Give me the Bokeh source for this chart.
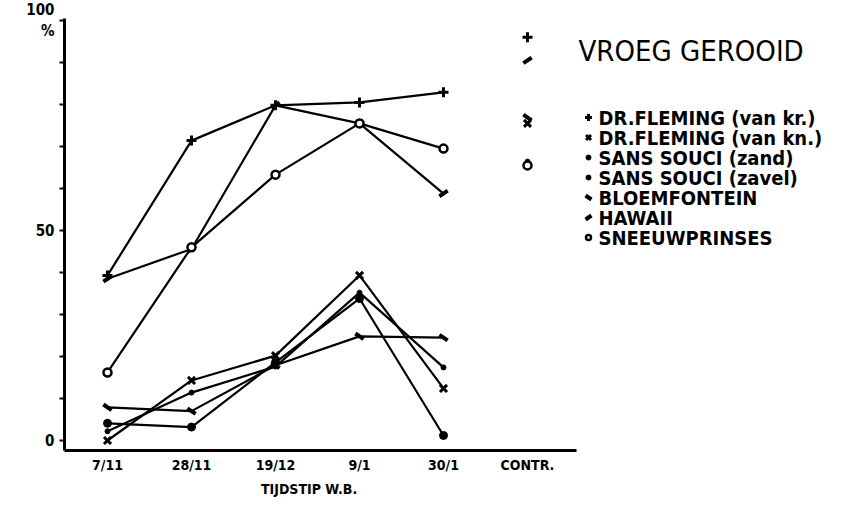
from bokeh.plotting import figure
from bokeh.models import FixedTicker, Label, Range1d, LinearAxis
from bokeh.embed import file_html
from bokeh.resources import INLINE

# ---------------- data ----------------
categories = ["7/11", "28/11", "19/12", "9/1", "30/1", "CONTR."]
dr_fleming_kr = [39.3, 71.4, 79.8, 80.5, 82.9]
dr_fleming_kn = [0.0, 14.3, 20.2, 39.3, 12.4]
sans_souci_zand = [4.1, 3.2, 18.6, 33.8, 1.2]
sans_souci_zavel = [2.2, 11.4, 17.6, 35.2, 17.4]
bloemfontein = [7.9, 7.0, 17.9, 24.8, 24.5]
hawaii = [38.5, 45.6, 79.8, 75.5, 58.8]
sneeuwprinses = [16.2, 46.0, 63.3, 75.5, 69.5]
# control values (CONTR.), None = not shown
contr_values = [96.0, 75.5, None, 66.4, 76.9, 90.5, 65.5]
series_names = ["DR.FLEMING (van kr.)", "DR.FLEMING (van kn.)", "SANS SOUCI (zand)",
                "SANS SOUCI (zavel)", "BLOEMFONTEIN", "HAWAII", "SNEEUWPRINSES"]
y_ticks = [0, 10, 20, 30, 40, 50, 60, 70, 80, 90, 100]
y_labels = {0: "0", 50: "50", 100: "100\n%"}
title_text = "VROEG GEROOID"
x_title = "TIJDSTIP W.B."
x_title_pos = 2.4

series = [dr_fleming_kr, dr_fleming_kn, sans_souci_zand, sans_souci_zavel,
          bloemfontein, hawaii, sneeuwprinses]

FONT = "DejaVu Sans Condensed, Liberation Sans Narrow, DejaVu Sans"

# marker styles per series
styles = [
    dict(marker="cross", size=10, line_width=3, fill_color="black"),
    dict(marker="x", size=10, line_width=3, fill_color="black"),
    dict(marker="circle", size=8, line_width=1, fill_color="black"),
    dict(marker="circle", size=5, line_width=1, fill_color="black"),
    dict(marker="dash", size=10, line_width=4, fill_color="black", angle=-0.6),
    dict(marker="dash", size=10, line_width=4, fill_color="black", angle=0.6),
    dict(marker="circle", size=8, line_width=2.5, fill_color="white"),
]

W, H = 830, 501

# pixel -> data helpers for layout
def X(px):
    return (px - 107) / 84.0

def Y(py):
    return (440 - py) / 4.2

p = figure(width=W, height=H, output_backend="svg", toolbar_location=None,
           x_range=Range1d(X(64), X(W)), y_range=Range1d(Y(450), Y(0)),
           min_border_left=64, min_border_right=0, min_border_top=0,
           min_border_bottom=H - 450)
p.outline_line_color = None
p.xgrid.visible = False
p.ygrid.visible = False
p.background_fill_color = "white"
p.border_fill_color = "white"

xs = list(range(len(categories)))

# x axis
xa = p.xaxis[0]
xa.ticker = FixedTicker(ticks=xs)
xa.major_label_overrides = {i: c for i, c in enumerate(categories)}
xa.bounds = (X(64), X(576))
xa.axis_line_width = 3
xa.major_tick_line_color = None
xa.major_tick_out = 0
xa.major_tick_in = 0
xa.minor_tick_line_color = None
xa.major_label_standoff = 6
xa.major_label_text_font = FONT
xa.major_label_text_font_style = "bold"
xa.major_label_text_font_size = "14px"
xa.major_label_text_color = "black"

# second (title) axis below
ta = LinearAxis(ticker=FixedTicker(ticks=[x_title_pos]),
                major_label_overrides={x_title_pos: x_title},
                axis_line_color=None, major_tick_line_color=None,
                minor_tick_line_color=None, major_tick_out=0, major_tick_in=0,
                major_label_standoff=5, major_label_text_font=FONT,
                major_label_text_font_style="bold", major_label_text_font_size="14px",
                major_label_text_color="black")
p.add_layout(ta, "below")

# y axis
ya = p.yaxis[0]
ya.ticker = FixedTicker(ticks=y_ticks)
ya.major_label_overrides = {t: y_labels.get(t, "") for t in y_ticks}
ya.bounds = (Y(450), Y(18))
ya.axis_line_width = 3
ya.major_tick_out = 5
ya.major_tick_in = 0
ya.major_tick_line_width = 2
ya.minor_tick_line_color = None
ya.major_label_standoff = 5
ya.major_label_text_font = FONT
ya.major_label_text_font_style = "bold"
ya.major_label_text_font_size = "15px"
ya.major_label_text_color = "black"

# lines and markers
for vals, st in zip(series, styles):
    px = xs[:len(vals)]
    p.line(px, vals, line_color="black", line_width=2.2)
    p.scatter(px, vals, line_color="black", **st)

# control points (CONTR.)
for cv, st in zip(contr_values, styles):
    if cv is not None:
        p.scatter([xs[-1]], [cv], line_color="black", **st)

# title
p.add_layout(Label(x=X(578), y=Y(50), text=title_text, text_font=FONT,
                   text_font_size="29px", text_baseline="middle", text_color="black"))

# legend
for k, (name, st) in enumerate(zip(series_names, styles)):
    yy = Y(117 + 20 * k)
    sst = dict(st)
    sst["size"] = max(5, st["size"] - 3)
    p.scatter([X(588)], [yy], line_color="black", **sst)
    p.add_layout(Label(x=X(598), y=yy, text=name, text_font=FONT,
                       text_font_style="bold", text_font_size="20px",
                       text_baseline="middle", text_color="black"))

open("out.html", "w").write(file_html(p, INLINE))
